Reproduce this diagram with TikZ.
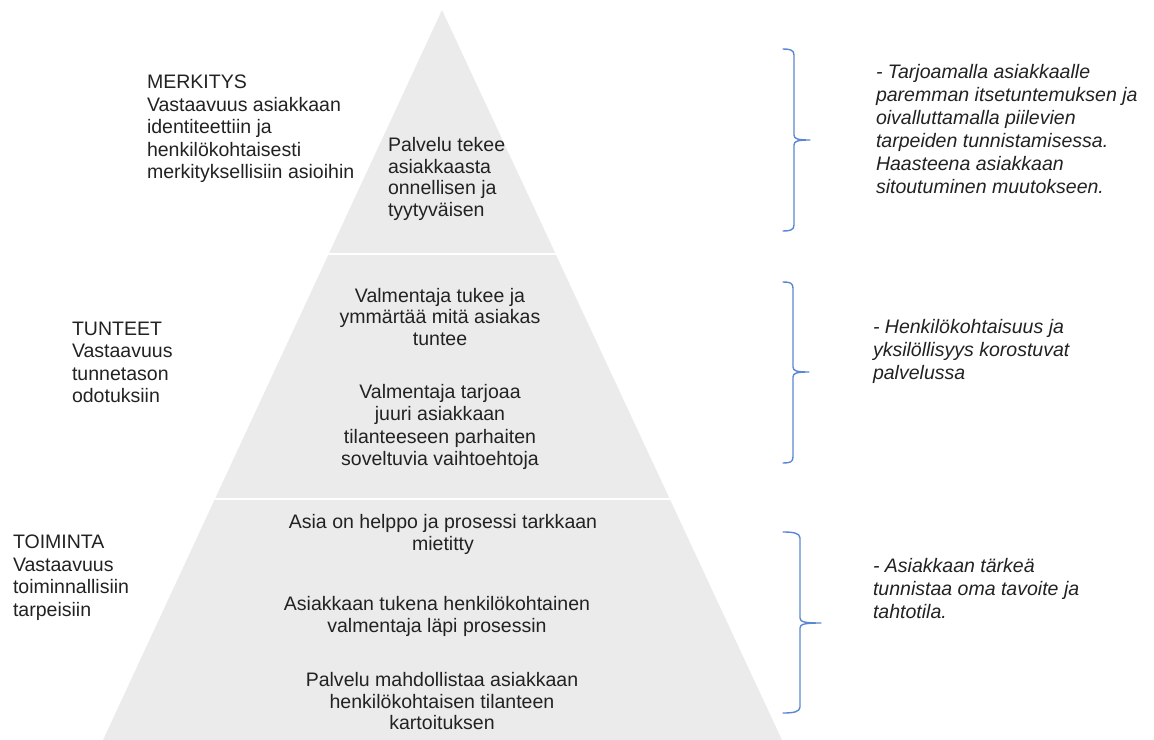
\documentclass[tikz,border=0pt]{standalone}
\usepackage{fontspec}
\setmainfont{Liberation Sans}
\definecolor{tierfill}{HTML}{EBEBEB}
\definecolor{bracecol}{HTML}{5B87D2}
\definecolor{txt}{HTML}{222222}
\begin{document}
\begin{tikzpicture}[x=1bp,y=-1bp,
  lbl/.style={inner sep=0pt,outer sep=0pt,text=txt,
    font=\fontsize{19.6}{22.6}\selectfont},
  lblleft/.style={lbl,anchor=north west,align=left},
  lblmid/.style={lbl,anchor=north,align=center},
  note/.style={lblleft,font=\fontsize{19.6}{23.1}\selectfont\itshape},
  bracket/.style={draw=bracecol,line width=1.4bp,line cap=round,line join=round}]
\useasboundingbox (0,0) rectangle (1154,740);

% pyramid body with white gaps between its three tiers
\fill[tierfill] (442,10) -- (782,740) -- (103,740) -- cycle;
\begin{scope}
  \clip (442,10) -- (782,740) -- (103,740) -- cycle;
  \draw[white,line width=2.6bp] (0,254) -- (1154,254);
  \draw[white,line width=2.6bp] (0,499) -- (1154,499);
\end{scope}

% level titles
\node[lblleft] (merk) at (147,75) {MERKITYS\\Vastaavuus asiakkaan\\identiteettiin ja\\henkilökohtaisesti\\merkityksellisiin asioihin};
\node[lblleft] (tunt) at (72,322) {TUNTEET\\Vastaavuus\\tunnetason\\odotuksiin};
\node[lblleft] (toim) at (13,535) {TOIMINTA\\Vastaavuus\\toiminnallisiin\\tarpeisiin};

% tier contents
\node[lblleft,font=\fontsize{19.6}{22}\selectfont] (palv) at (388,137) {Palvelu tekee\\asiakkaasta\\onnellisen ja\\tyytyväisen};
\node[lblmid,font=\fontsize{19.6}{21.8}\selectfont] (vt1) at (440,288) {Valmentaja tukee ja\\ymmärtää mitä asiakas\\tuntee};
\node[lblmid] (vt2) at (440,384) {Valmentaja tarjoaa\\juuri asiakkaan\\tilanteeseen parhaiten\\soveltuvia vaihtoehtoja};
\node[lblmid] (helppo) at (443,514) {Asia on helppo ja prosessi tarkkaan\\mietitty};
\node[lblmid] (tuki) at (437,596) {Asiakkaan tukena henkilökohtainen\\valmentaja läpi prosessin};
\node[lblmid,font=\fontsize{19.6}{22}\selectfont] (kart) at (442,672) {Palvelu mahdollistaa asiakkaan\\henkilökohtaisen tilanteen\\kartoituksen};

% brackets
\draw[bracket] (783,49) .. controls (790,49) and (794,50) .. (794,55) -- (794,135)
  .. controls (794,139) and (798,140) .. (810,140)
  .. controls (798,140) and (794,141) .. (794,145) -- (794,225)
  .. controls (794,230) and (790,231) .. (783,231);
\draw[bracket] (783,282) .. controls (790,282) and (793,283) .. (793,288) -- (793,367)
  .. controls (793,371) and (797,372) .. (809,372)
  .. controls (797,372) and (793,373) .. (793,377) -- (793,457)
  .. controls (793,462) and (790,463) .. (783,463);
\draw[bracket] (783,532) .. controls (793,532) and (800,533) .. (800,538) -- (800,618)
  .. controls (800,622) and (805,623) .. (821,623)
  .. controls (805,623) and (800,624) .. (800,628) -- (800,707)
  .. controls (800,712) and (793,713) .. (783,713);

% remarks
\node[note] (r1) at (876,64) {- Tarjoamalla asiakkaalle\\paremman itsetuntemuksen ja\\oivalluttamalla piilevien\\tarpeiden tunnistamisessa.\\Haasteena asiakkaan\\sitoutuminen muutokseen.};
\node[note] (r2) at (873,319) {- Henkilökohtaisuus ja\\yksilöllisyys korostuvat\\palvelussa};
\node[note] (r3) at (873,558) {- Asiakkaan tärkeä\\tunnistaa oma tavoite ja\\tahtotila.};
\end{tikzpicture}
\end{document}
